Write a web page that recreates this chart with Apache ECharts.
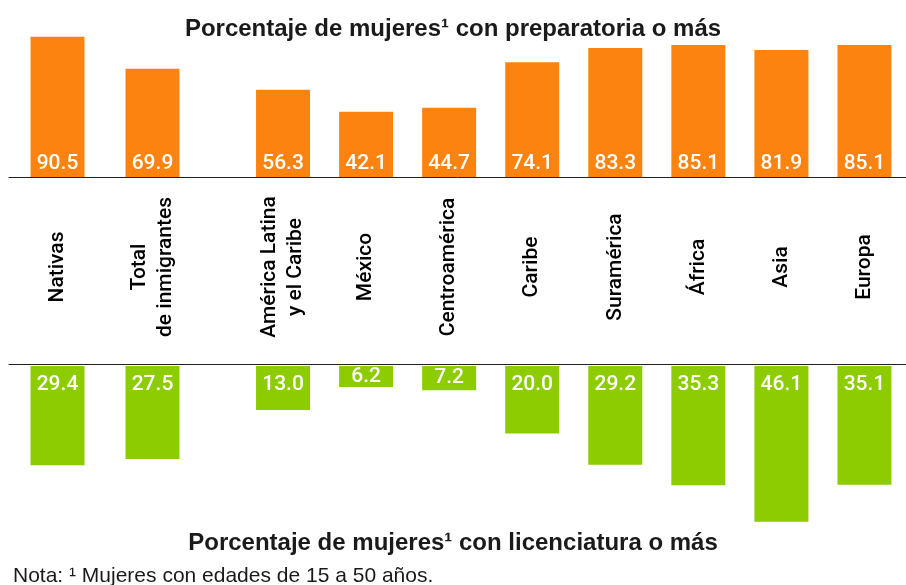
<!DOCTYPE html>
<html>
<head>
<meta charset="utf-8">
<script src="https://cdn.jsdelivr.net/npm/echarts@6/dist/echarts.min.js"></script>
<style>
  html, body { margin: 0; padding: 0; background: #fff; }
  #chart { width: 906px; height: 585px; }
</style>
</head>
<body>
<div id="chart"></div>
<script>
// groups: first two stand apart, then regions of origin
const groupA = ['Nativas', 'Total\nde inmigrantes'];
const groupB = ['América Latina\ny el Caribe', 'México', 'Centroamérica', 'Caribe', 'Suramérica', 'África', 'Asia', 'Europa'];

// % con preparatoria o más
const prepA = [90.5, 69.9];
const prepB = [56.3, 42.1, 44.7, 74.1, 83.3, 85.1, 81.9, 85.1];

// % con licenciatura o más
const licA = [29.4, 27.5];
const licB = [13.0, 6.2, 7.2, 20.0, 29.2, 35.3, 46.1, 35.1];

const orange = '#fd8311';
const green = '#8ccc00';
const font = 'Liberation Sans, Arial, Helvetica, sans-serif';
const labelFont = 'Roboto, Liberation Sans, Arial, sans-serif';

const chart = echarts.init(document.getElementById('chart'));

function catAxis(grid, data, withLabels, pos) {
  return {
    type: 'category', gridIndex: grid, data: data, position: pos,
    axisLine: { show: false, onZero: false }, axisTick: { show: false },
    axisLabel: withLabels ? {
      show: true, interval: 0, rotate: 90, margin: 90,
      align: 'center', verticalAlign: 'middle',
      fontFamily: labelFont, fontWeight: 500, fontSize: 21, lineHeight: 26, color: '#000'
    } : { show: false }
  };
}

function lineAxis(grid, pos) {
  return {
    type: 'value', gridIndex: grid, min: 0, max: 1, position: pos,
    axisLine: { show: true, onZero: false, lineStyle: { color: '#222', width: 1 } },
    axisTick: { show: false }, axisLabel: { show: false }, splitLine: { show: false }
  };
}

function valAxis(grid, max, inverse) {
  return { type: 'value', gridIndex: grid, min: 0, max: max, inverse: inverse, show: false };
}

function labelText(p) { return p.value.toFixed(1); }

function prepSeries(idx, data) {
  return {
    type: 'bar', xAxisIndex: idx, yAxisIndex: idx, data: data,
    barWidth: 54, itemStyle: { color: orange },
    label: {
      show: true, position: 'insideBottom', distance: 3, formatter: labelText,
      color: '#fff', fontFamily: labelFont, fontWeight: 500, fontSize: 21
    }
  };
}

function licSeries(idx, data) {
  return {
    type: 'bar', xAxisIndex: idx, yAxisIndex: idx,
    data: data.map(v => ({
      value: v,
      label: { position: v < 10 ? 'inside' : 'insideTop' }
    })),
    barWidth: 54, itemStyle: { color: green },
    label: {
      show: true, distance: 8, formatter: labelText,
      color: '#fff', fontFamily: labelFont, fontWeight: 500, fontSize: 21
    }
  };
}

const option = {
  animation: false,
  backgroundColor: '#fff',
  title: [
    {
      text: 'Porcentaje de mujeres¹ con preparatoria o más',
      left: 'center', top: 12,
      textStyle: { fontFamily: font, fontSize: 24, fontWeight: 'bold', color: '#1a1a1a' }
    },
    {
      text: 'Porcentaje de mujeres¹ con licenciatura o más',
      left: 'center', top: 526,
      textStyle: { fontFamily: font, fontSize: 24, fontWeight: 'bold', color: '#1a1a1a' }
    },
    {
      text: 'Nota: ¹ Mujeres con edades de 15 a 50 años.',
      left: 8, top: 561,
      textStyle: { fontFamily: font, fontSize: 21, fontWeight: 'normal', color: '#1a1a1a' }
    }
  ],
  grid: [
    { left: 10, width: 190, top: 22, height: 155 },
    { left: 241.5, right: 0, top: 22, height: 155 },
    { left: 10, width: 190, top: 366, height: 169 },
    { left: 241.5, right: 0, top: 366, height: 169 },
    { left: 9, right: 0, top: 22, height: 155 },
    { left: 9, right: 0, top: 364.5, height: 169 }
  ],
  xAxis: [
    catAxis(0, groupA, true, 'bottom'),
    catAxis(1, groupB, true, 'bottom'),
    catAxis(2, groupA, false, 'top'),
    catAxis(3, groupB, false, 'top'),
    lineAxis(4, 'bottom'),
    lineAxis(5, 'top')
  ],
  yAxis: [
    valAxis(0, 100, false),
    valAxis(1, 100, false),
    valAxis(2, 50, true),
    valAxis(3, 50, true),
    valAxis(4, 1, false),
    valAxis(5, 1, false)
  ],
  series: [
    prepSeries(0, prepA),
    prepSeries(1, prepB),
    licSeries(2, licA),
    licSeries(3, licB)
  ]
};

chart.setOption(option);
</script>
</body>
</html>
